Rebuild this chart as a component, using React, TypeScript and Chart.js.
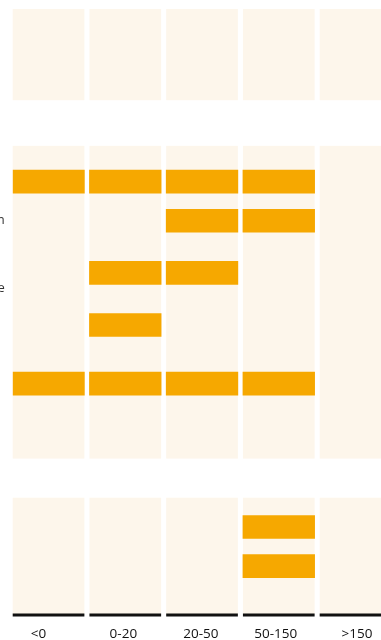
import React, { useEffect, useRef } from "react";
import { Chart, registerables } from "chart.js";

Chart.register(...registerables);

// Bins along the horizontal axis
const columns = ["<0", "0-20", "20-50", "50-150", ">150"];

// One entry per row: its (partly visible) label and the bins it covers
const rowLabels: (string | string[])[] = ["", "n", ["", "", "e"], "", "", "", ""];
const rowBins: number[][] = [
  [0, 1, 2, 3],
  [2, 3],
  [1, 2],
  [1],
  [0, 1, 2, 3],
  [3],
  [3],
];

// Layout: the vertical axis is a grid of thin category slots
const SLOT_COUNT = 93;
const rowSlot = [26, 32, 40, 48, 57, 79, 85];
const groupSlots: [number, number][] = [
  [0, 13],
  [21, 68],
  [75, 92],
];
const HALF = 0.467; // half width of a column panel, in bin units
const labelNudge = [-0.13, -0.025, -0.015, -0.04, 0.02];

const PANEL = "#fdf6eb";
const BAR = "#f6a800";
const FONT = "'Open Sans', 'Noto Sans', sans-serif";

const panelPlugin = {
  id: "panels",
  beforeDatasetsDraw(chart: any) {
    const { ctx, scales } = chart;
    const x = scales.x;
    const y = scales.y;
    ctx.save();
    ctx.fillStyle = PANEL;
    groupSlots.forEach(([a, b]) => {
      const top = y.getPixelForValue(a - 0.5);
      const bottom = y.getPixelForValue(b + 0.5);
      columns.forEach((_, c) => {
        const l = x.getPixelForValue(c - HALF);
        const r = x.getPixelForValue(c + HALF);
        ctx.fillRect(l, top, r - l, bottom - top);
      });
    });
    ctx.restore();
  },
  afterDatasetsDraw(chart: any) {
    const { ctx, scales, chartArea } = chart;
    const x = scales.x;
    ctx.save();
    ctx.strokeStyle = "#111111";
    ctx.lineWidth = 3;
    columns.forEach((_, c) => {
      const l = x.getPixelForValue(c - HALF);
      const r = x.getPixelForValue(c + HALF);
      ctx.beginPath();
      ctx.moveTo(l, chartArea.bottom);
      ctx.lineTo(r, chartArea.bottom);
      ctx.stroke();
    });
    ctx.restore();
  },
};

export default function App() {
  const ref = useRef<HTMLCanvasElement>(null);

  useEffect(() => {
    if (!ref.current) return;

    const slotLabels: (string | string[])[] = Array.from({ length: SLOT_COUNT }, () => "");
    rowSlot.forEach((s, r) => {
      slotLabels[s] = rowLabels[r];
    });

    const datasets = columns.map((name, c) => ({
      label: name,
      data: slotLabels.map((_, s) => {
        const r = rowSlot.indexOf(s);
        return r >= 0 && rowBins[r].includes(c) ? [c - HALF, c + HALF] : null;
      }),
      backgroundColor: BAR,
      borderWidth: 0,
      barThickness: 23,
      grouped: false,
    }));

    const chart = new Chart(ref.current, {
      type: "bar",
      data: { labels: slotLabels, datasets: datasets as any },
      plugins: [panelPlugin],
      options: {
        animation: false,
        responsive: false,
        devicePixelRatio: 1,
        indexAxis: "y",
        layout: { padding: { top: 9, left: 0, right: 0, bottom: 0 } },
        plugins: {
          legend: { display: false },
          tooltip: { enabled: false },
        },
        scales: {
          x: {
            type: "linear",
            min: -HALF,
            max: 4.332,
            grid: { display: false, drawTicks: false },
            border: { display: false },
            afterBuildTicks(scale: any) {
              scale.ticks = columns.map((_, i) => ({ value: i + labelNudge[i] }));
            },
            afterFit(scale: any) {
              scale.height = 25;
              scale.paddingLeft = 0;
              scale.paddingRight = 0;
            },
            ticks: {
              autoSkip: false,
              maxRotation: 0,
              padding: 11,
              color: "#111111",
              font: { family: FONT, size: 13.5 },
              callback: (_v: any, i: number) => columns[i],
            },
          },
          y: {
            type: "category",
            offset: true,
            grid: { display: false, drawTicks: false },
            border: { display: false },
            afterFit(scale: any) {
              scale.width = 12.7;
              scale.paddingTop = 0;
              scale.paddingBottom = 0;
            },
            ticks: {
              autoSkip: false,
              padding: 8,
              color: "#333333",
              font: { family: FONT, size: 13, lineHeight: 1.15 },
            },
          },
        },
      },
    });

    return () => chart.destroy();
  }, []);

  return (
    <div style={{ position: "absolute", left: 0, top: 0, width: 381, height: 640, overflow: "hidden" }}>
      <canvas ref={ref} width={381} height={640} style={{ display: "block" }} />
    </div>
  );
}
